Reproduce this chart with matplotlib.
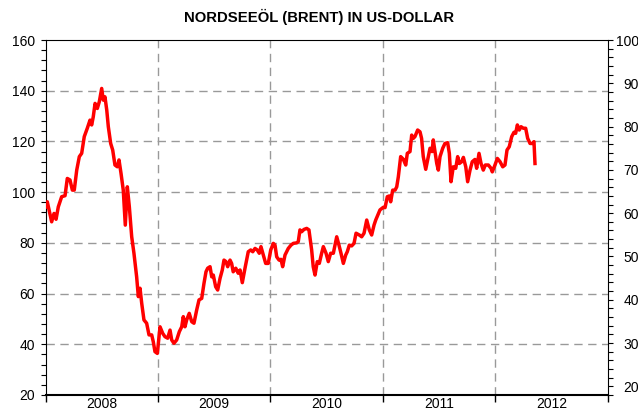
import matplotlib
matplotlib.use("Agg")
import matplotlib.pyplot as plt
from matplotlib.ticker import MultipleLocator

plt.rcParams['font.family'] = ['Liberation Sans', 'DejaVu Sans']

# Brent price, decimal year vs. USD per barrel
years = [
    2008.000, 2008.015, 2008.054, 2008.075, 2008.093, 2008.113, 2008.143, 2008.173,
    2008.193, 2008.217, 2008.238, 2008.255, 2008.277, 2008.300, 2008.321, 2008.344,
    2008.371, 2008.395, 2008.410, 2008.424, 2008.440, 2008.460, 2008.478, 2008.499,
    2008.513, 2008.528, 2008.544, 2008.558, 2008.579, 2008.597, 2008.617, 2008.638,
    2008.653, 2008.671, 2008.691, 2008.709, 2008.727, 2008.745, 2008.766, 2008.786,
    2008.810, 2008.825, 2008.840, 2008.855, 2008.875, 2008.899, 2008.920, 2008.944,
    2008.958, 2008.973, 2008.994, 2009.018, 2009.042, 2009.062, 2009.086, 2009.107,
    2009.122, 2009.142, 2009.166, 2009.190, 2009.211, 2009.225, 2009.240, 2009.255,
    2009.278, 2009.300, 2009.320, 2009.344, 2009.365, 2009.389, 2009.409, 2009.427,
    2009.442, 2009.463, 2009.478, 2009.492, 2009.513, 2009.531, 2009.552, 2009.572,
    2009.587, 2009.605, 2009.620, 2009.641, 2009.655, 2009.669, 2009.692, 2009.714,
    2009.730, 2009.750, 2009.774, 2009.803, 2009.825, 2009.843, 2009.863, 2009.883,
    2009.901, 2009.916, 2009.937, 2009.958, 2009.981, 2010.003, 2010.026, 2010.041,
    2010.056, 2010.077, 2010.094, 2010.109, 2010.130, 2010.159, 2010.183, 2010.204,
    2010.234, 2010.248, 2010.263, 2010.278, 2010.299, 2010.323, 2010.343, 2010.367,
    2010.381, 2010.397, 2010.417, 2010.435, 2010.456, 2010.471, 2010.495, 2010.515,
    2010.536, 2010.560, 2010.590, 2010.610, 2010.628, 2010.649, 2010.670, 2010.684,
    2010.702, 2010.723, 2010.744, 2010.762, 2010.791, 2010.812, 2010.833, 2010.857,
    2010.880, 2010.901, 2010.922, 2010.937, 2010.975, 2011.004, 2011.020, 2011.040,
    2011.058, 2011.070, 2011.088, 2011.109, 2011.124, 2011.138, 2011.159, 2011.182,
    2011.204, 2011.218, 2011.242, 2011.257, 2011.271, 2011.286, 2011.310, 2011.331,
    2011.345, 2011.360, 2011.382, 2011.399, 2011.420, 2011.438, 2011.449, 2011.464,
    2011.480, 2011.494, 2011.509, 2011.533, 2011.553, 2011.577, 2011.592, 2011.607,
    2011.627, 2011.649, 2011.666, 2011.681, 2011.702, 2011.717, 2011.738, 2011.755,
    2011.776, 2011.796, 2011.820, 2011.835, 2011.856, 2011.874, 2011.894, 2011.912,
    2011.939, 2011.963, 2011.974, 2011.998, 2012.019, 2012.043, 2012.067, 2012.087,
    2012.105, 2012.125, 2012.147, 2012.167, 2012.182, 2012.197, 2012.214, 2012.230,
    2012.250, 2012.271, 2012.289, 2012.310, 2012.330, 2012.345, 2012.354,
]
brent = [
    94.2, 96.2, 88.3, 91.6, 89.3, 94.2, 98.2, 98.6,
    105.4, 104.8, 100.8, 100.8, 108.7, 114.0, 115.3, 121.9,
    125.2, 128.4, 126.5, 129.7, 135.0, 133.0, 135.7, 140.9,
    136.3, 137.6, 132.4, 125.8, 119.2, 116.6, 110.7, 110.0,
    112.7, 107.4, 100.8, 87.0, 102.1, 94.2, 82.4, 75.9,
    66.6, 58.8, 62.1, 56.2, 49.6, 48.3, 43.7, 43.7,
    41.0, 37.1, 36.4, 46.9, 44.3, 43.0, 42.4, 45.6,
    41.7, 40.4, 41.7, 45.0, 46.9, 50.9, 46.9, 49.6,
    52.2, 48.9, 48.3, 53.5, 57.5, 58.1, 64.0, 68.6,
    70.0, 70.6, 66.6, 67.3, 62.7, 61.4, 66.0, 69.3,
    73.2, 72.6, 70.6, 73.2, 71.9, 68.6, 70.0, 68.0,
    69.3, 64.3, 70.0, 76.5, 77.2, 76.5, 77.8, 77.2,
    75.9, 78.5, 75.2, 71.9, 71.9, 77.2, 79.8, 79.1,
    74.5, 73.2, 73.5, 70.6, 75.2, 77.8, 79.1, 79.8,
    80.0, 80.5, 85.1, 84.4, 85.3, 85.7, 85.1, 77.2,
    70.6, 67.3, 72.6, 71.9, 75.9, 78.5, 75.9, 72.6,
    75.9, 75.9, 82.4, 79.1, 75.9, 71.9, 75.2, 76.5,
    79.1, 78.8, 79.8, 83.8, 83.1, 82.4, 83.8, 89.0,
    85.1, 83.1, 87.0, 89.0, 93.0, 94.0, 93.9, 98.2,
    98.5, 96.2, 100.8, 100.8, 102.1, 106.0, 114.0, 113.0,
    110.7, 115.3, 116.0, 122.5, 121.2, 121.9, 124.5, 123.8,
    121.2, 114.0, 109.0, 112.7, 117.3, 116.0, 120.6, 116.0,
    111.3, 108.7, 114.0, 117.3, 119.2, 119.5, 115.3, 104.1,
    110.0, 109.4, 114.0, 111.3, 112.0, 113.7, 110.0, 104.1,
    108.7, 112.0, 112.9, 109.4, 115.3, 111.3, 108.7, 110.7,
    110.7, 109.4, 108.0, 110.7, 113.3, 112.0, 110.0, 110.7,
    116.6, 117.9, 121.9, 123.6, 123.2, 126.5, 124.5, 125.8,
    125.2, 125.2, 121.2, 119.2, 119.2, 119.9, 111.3,
]
year_labels = ['2008', '2009', '2010', '2011', '2012']
year_starts = [2008, 2009, 2010, 2011, 2012, 2013]
left_ticks = [20, 40, 60, 80, 100, 120, 140, 160]
right_ticks = [20, 30, 40, 50, 60, 70, 80, 90, 100]

fig = plt.figure(figsize=(6.38, 4.12), dpi=100)
ax = fig.add_axes([45.6 / 638, 17 / 412, 562 / 638, 355 / 412])

ax.plot(years, brent, color='#ff0000', linewidth=2.5, solid_joinstyle='round', zorder=3)

ax.set_xlim(2008, 2013)
ax.set_ylim(20, 160)

grid_kw = dict(color='#999999', linewidth=1.0, dashes=(6, 4), zorder=1)
for v in left_ticks[1:-1]:
    ax.axhline(v, **grid_kw)
for yr in year_starts[1:-1]:
    ax.axvline(yr, **grid_kw)

# x axis: ticks at year boundaries, labels centred in each year
ax.set_xticks(year_starts)
ax.set_xticklabels([])
ax.set_xticks([y + 0.5 for y in year_starts[:-1]], minor=True)
ax.set_xticklabels(year_labels, minor=True, fontsize=10)
ax.tick_params(axis='x', which='major', direction='out', length=5, width=1)
ax.tick_params(axis='x', which='minor', length=0, pad=1.5)

ax.set_yticks(left_ticks)
ax.yaxis.set_minor_locator(MultipleLocator(4))
ax.tick_params(axis='y', which='both', direction='out', length=3.5, width=0.8,
               labelsize=10, pad=4)

for s in ['left', 'right', 'top']:
    ax.spines[s].set_linewidth(0.8)
ax.spines['bottom'].set_linewidth(1.5)

ax2 = ax.twinx()
ax2.set_ylim(18, 100)
ax2.set_yticks(right_ticks)
ax2.yaxis.set_minor_locator(MultipleLocator(2))
ax2.tick_params(axis='y', which='both', direction='out', length=3.5, width=0.8,
                labelsize=10, pad=19)
for lab in ax2.get_yticklabels():
    lab.set_horizontalalignment('right')
for s in ax2.spines.values():
    s.set_visible(False)

fig.text(0.5, 1 - 17 / 412, 'NORDSEEÖL (BRENT) IN US-DOLLAR', ha='center', va='center',
         fontsize=10.7, fontweight='bold')

fig.savefig('out.png', dpi=100)
